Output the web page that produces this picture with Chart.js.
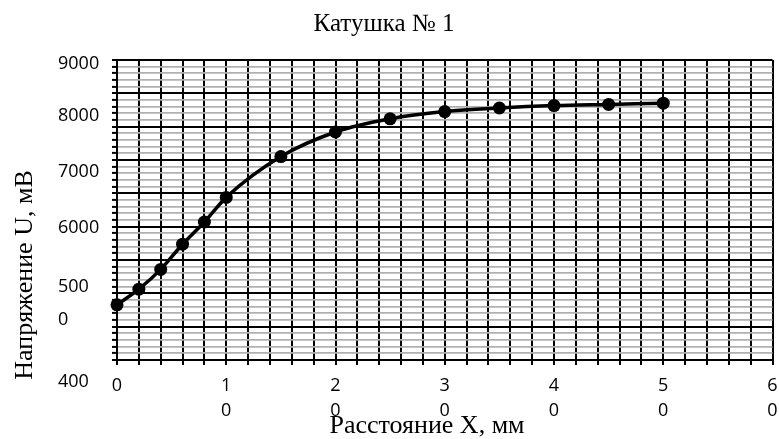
<!DOCTYPE html>
<html>
<head>
<meta charset="utf-8">
<script src="https://cdn.jsdelivr.net/npm/chart.js@4.4.1/dist/chart.umd.min.js"></script>
<style>
  html, body { margin: 0; padding: 0; background: #fff; }
  #wrap { width: 779px; height: 439px; }
</style>
</head>
<body>
<div id="wrap"><canvas id="chart" width="779" height="439"></canvas></div>
<script>
// data
const distance = [0, 2, 4, 6, 8, 10, 15, 20, 25, 30, 35, 40, 45, 50];
const voltage = [4920, 5180, 5510, 5930, 6300, 6710, 7390, 7800, 8020, 8140, 8200, 8240, 8260, 8280];

const xTickValues = [0, 10, 20, 30, 40, 50, 60];
const xTickLabels = ["0", ["1", "0"], ["2", "0"], ["3", "0"], ["4", "0"], ["5", "0"], ["6", "0"]];
// the y labels are wrapped/shifted in the original, kept as they appear
const yTickLabels = ["9000", "8000", "7000", "6000", "500", "0", "400"];

const chartTitle = "Катушка № 1";
const xTitle = "Расстояние X, мм";
const yTitle = "Напряжение U, мВ";

const serif = "'Liberation Serif', 'Times New Roman', serif";
const sans = "'Open Sans', 'Liberation Sans', sans-serif";

// text that sits outside the library's own tick positions
const textPlugin = {
  id: "texts",
  afterDraw(chart) {
    const ctx = chart.ctx;
    ctx.save();
    ctx.fillStyle = "#000";

    ctx.font = "25px " + serif;
    ctx.textAlign = "center";
    ctx.textBaseline = "alphabetic";
    ctx.fillText(chartTitle, 384, 31);
    ctx.font = "26px " + serif;
    ctx.fillText(xTitle, 427, 433);

    ctx.save();
    ctx.translate(32, 275);
    ctx.rotate(-Math.PI / 2);
    ctx.fillText(yTitle, 0, 0);
    ctx.restore();

    const yPos = [64, 116, 172, 228, 287, 320, 382];
    ctx.font = "18px " + sans;
    ctx.textAlign = "left";
    ctx.textBaseline = "middle";
    yTickLabels.forEach((t, i) => ctx.fillText(t, 58, yPos[i]));
    ctx.restore();
  }
};

new Chart(document.getElementById("chart"), {
  type: "line",
  data: {
    datasets: [{
      data: distance.map((x, i) => ({ x: x, y: voltage[i] })),
      borderColor: "#000",
      backgroundColor: "#000",
      borderWidth: 3.5,
      pointRadius: 6.5,
      pointBorderWidth: 0,
      pointBackgroundColor: "#000",
      cubicInterpolationMode: "monotone",
      clip: false
    }]
  },
  options: {
    responsive: false,
    animation: false,
    devicePixelRatio: 1,
    layout: { padding: { top: 60, right: 2, left: 0, bottom: 0 } },
    plugins: { legend: { display: false }, title: { display: false }, tooltip: { enabled: false } },
    scales: {
      x: {
        type: "linear",
        min: 0,
        max: 60,
        border: { color: "#000", width: 2 },
        grid: { color: "#000", lineWidth: 2, tickColor: "#000", tickWidth: 2, tickLength: 5 },
        ticks: {
          stepSize: 2,
          autoSkip: false,
          maxRotation: 0,
          padding: 8,
          color: "#000",
          font: { family: sans, size: 18, lineHeight: 1.4 },
          callback: (v) => {
            const k = xTickValues.indexOf(v);
            return k >= 0 ? xTickLabels[k] : "";
          }
        },
        afterFit: (s) => { s.height = 79; s.paddingLeft = 0; s.paddingRight = 0; }
      },
      y: {
        type: "linear",
        min: 4000,
        max: 9000,
        border: { color: "#000", width: 2 },
        grid: {
          color: (c) => (c.index % 5 === 0 ? "#000" : "#b0b0b0"),
          lineWidth: (c) => (c.index % 5 === 0 ? 2 : 1.8),
          tickColor: "#000",
          tickWidth: 2,
          tickLength: 5
        },
        ticks: { display: false },
        afterBuildTicks: (s) => {
          const t = [];
          for (let i = 0; i <= 45; i++) t.push({ value: 4000 + (i * 5000) / 45 });
          s.ticks = t;
        },
        afterFit: (s) => { s.width = 117; s.paddingTop = 0; s.paddingBottom = 0; }
      }
    }
  },
  plugins: [textPlugin]
});
</script>
</body>
</html>
